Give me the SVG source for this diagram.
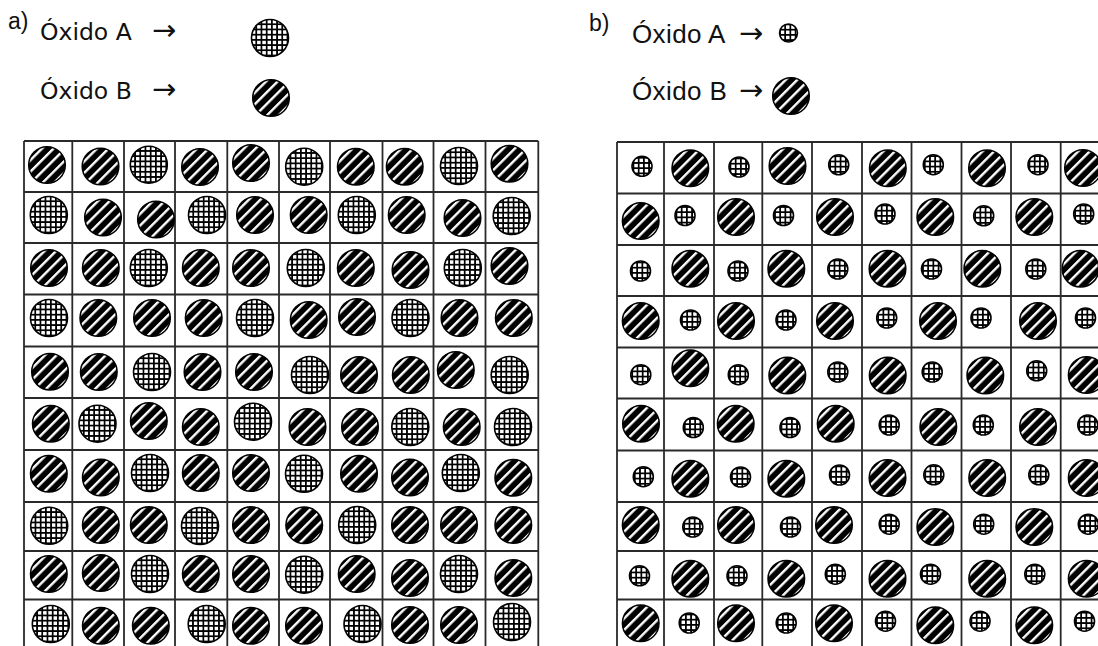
<svg xmlns="http://www.w3.org/2000/svg" xmlns:xlink="http://www.w3.org/1999/xlink" width="1098" height="646" viewBox="0 0 1098 646">
<style>
.lbl{font-family:"DejaVu Sans",sans-serif;font-size:23.5px;fill:#111}
.lblb{font-family:"Liberation Sans",Arial,sans-serif;font-size:26px;letter-spacing:0.4px;fill:#111}
.arr{font-family:"DejaVu Sans",sans-serif;font-size:29px}
.tag{font-family:"Liberation Sans",Arial,sans-serif;font-size:23px;fill:#111}
.grid{fill:none;stroke:#2a2a2a;stroke-width:1.8}
</style>
<defs>
<pattern id="stripe" patternUnits="userSpaceOnUse" width="8.2" height="8.2" patternTransform="rotate(-45)">
<rect width="8.2" height="8.2" fill="#000"/>
<rect y="0" width="8.2" height="2.4" fill="#fff"/>
</pattern>
<pattern id="hatch" patternUnits="userSpaceOnUse" width="5.2" height="5.2" x="1" y="1">
<rect width="5.2" height="5.2" fill="#fff"/>
<rect width="5.2" height="1.5" fill="#000" shape-rendering="crispEdges"/>
<rect width="1.5" height="5.2" fill="#000" shape-rendering="crispEdges"/>
</pattern>
<circle id="cB" r="18.3" fill="url(#stripe)" stroke="#000" stroke-width="1.5"/>
<circle id="cA" r="18.5" fill="url(#hatch)" stroke="#000" stroke-width="1.6"/>
<circle id="ca" r="10" fill="url(#hatch)" stroke="#000" stroke-width="1.6"/>
<circle id="ch" r="9" fill="url(#hatch)" stroke="#000" stroke-width="1.5"/>
</defs>

<g id="legend-a">
<text class="tag" x="8" y="29">a)</text>
<text class="lbl" x="40" y="40">Óxido A <tspan class="arr" x="152">→</tspan></text>
<text class="lbl" x="40" y="99">Óxido B <tspan class="arr" x="152">→</tspan></text>
<use href="#cA" x="270" y="38"/>
<use href="#cB" x="271" y="98"/>
</g>

<g id="legend-b">
<text class="tag" x="589" y="31">b)</text>
<text class="lblb" x="632" y="43">Óxido A <tspan class="arr" x="739">→</tspan></text>
<text class="lblb" x="632" y="100">Óxido B <tspan class="arr" x="739">→</tspan></text>
<use href="#ch" x="788.5" y="33"/>
<use href="#cB" x="791" y="96"/>
</g>

<g id="grid-a">
<path class="grid" d="M24 141V660M72.3 141V660M124 141V660M175 141V660M227.3 141V660M279 141V660M330 141V660M382.5 141V660M433.5 141V660M485.5 141V660M538.3 141V660
M24 141H538.3M24 192H538.3M24 243H538.3M24 294.5H538.3M24 346.5H538.3M24 398H538.3M24 450H538.3M24 502H538.3M24 551H538.3M24 599.5H538.3"/>
</g>

<g id="grid-b">
<path class="grid" d="M617 142V660M664 142V660M714 142V660M762.3 142V660M812 142V660M862 142V660M911.5 142V660M961.5 142V660M1011 142V660M1060.7 142V660
M617 142H1110M617 193.5H1110M617 245H1110M617 296H1110M617 347.5H1110M617 398.5H1110M617 450.5H1110M617 502H1110M617 551H1110M617 599.5H1110"/>
</g>

<g id="particles-a">
<use href="#cB" x="47" y="165"/><use href="#cB" x="100.5" y="166.5"/><use href="#cA" x="148.8" y="164.7"/><use href="#cB" x="200" y="167"/><use href="#cB" x="251" y="163"/><use href="#cA" x="304.2" y="166.7"/><use href="#cB" x="355.8" y="166.7"/><use href="#cB" x="404.7" y="166.7"/><use href="#cA" x="459" y="166"/><use href="#cB" x="509.5" y="163.7"/>
<use href="#cA" x="48.8" y="215"/><use href="#cB" x="103" y="217.5"/><use href="#cB" x="156" y="219.5"/><use href="#cA" x="207" y="215"/><use href="#cB" x="255" y="215"/><use href="#cB" x="308.7" y="215"/><use href="#cA" x="356.8" y="215"/><use href="#cB" x="406.7" y="215"/><use href="#cB" x="462.5" y="218"/><use href="#cA" x="511.7" y="216"/>
<use href="#cB" x="49" y="268"/><use href="#cB" x="100.8" y="268"/><use href="#cA" x="148.8" y="268"/><use href="#cB" x="200.8" y="268"/><use href="#cB" x="251" y="268"/><use href="#cA" x="305.8" y="268"/><use href="#cB" x="355.8" y="268"/><use href="#cB" x="410.5" y="270"/><use href="#cA" x="462.8" y="268"/><use href="#cB" x="509.5" y="266"/>
<use href="#cA" x="49" y="318"/><use href="#cB" x="98.3" y="318"/><use href="#cB" x="152" y="318"/><use href="#cB" x="203.7" y="318"/><use href="#cA" x="255" y="318"/><use href="#cB" x="308.7" y="320"/><use href="#cB" x="357" y="317"/><use href="#cA" x="410.5" y="318"/><use href="#cB" x="459.5" y="318"/><use href="#cB" x="513.8" y="318"/>
<use href="#cB" x="50" y="371.7"/><use href="#cB" x="98.8" y="372"/><use href="#cA" x="152" y="372"/><use href="#cB" x="202.5" y="372"/><use href="#cB" x="254" y="372"/><use href="#cA" x="310" y="375"/><use href="#cB" x="359" y="375"/><use href="#cB" x="410.8" y="375"/><use href="#cB" x="455.8" y="370"/><use href="#cA" x="509.7" y="375"/>
<use href="#cB" x="50.8" y="423.7"/><use href="#cA" x="97.5" y="423.7"/><use href="#cB" x="148.8" y="421"/><use href="#cB" x="200.8" y="427"/><use href="#cA" x="253" y="421.7"/><use href="#cB" x="307.5" y="427"/><use href="#cB" x="360" y="427"/><use href="#cA" x="410.3" y="427"/><use href="#cB" x="461.7" y="427"/><use href="#cA" x="513" y="427"/>
<use href="#cB" x="48.8" y="473.8"/><use href="#cB" x="100.8" y="477.5"/><use href="#cA" x="150" y="473"/><use href="#cB" x="200.8" y="473"/><use href="#cB" x="251" y="473"/><use href="#cA" x="304" y="473.8"/><use href="#cB" x="359" y="473.8"/><use href="#cB" x="410" y="477.5"/><use href="#cA" x="460.8" y="473"/><use href="#cB" x="513.3" y="477.8"/>
<use href="#cA" x="49.2" y="525.8"/><use href="#cB" x="100.8" y="525"/><use href="#cB" x="148.8" y="525"/><use href="#cA" x="200" y="526"/><use href="#cB" x="251" y="525"/><use href="#cB" x="304.2" y="525.3"/><use href="#cA" x="357.2" y="525"/><use href="#cB" x="410" y="525"/><use href="#cB" x="459" y="525"/><use href="#cB" x="513.3" y="525"/>
<use href="#cB" x="48.8" y="574"/><use href="#cB" x="100.8" y="573"/><use href="#cA" x="150" y="574"/><use href="#cB" x="200.8" y="574"/><use href="#cB" x="251" y="574"/><use href="#cA" x="304.2" y="574.7"/><use href="#cB" x="356.7" y="574"/><use href="#cB" x="410" y="578"/><use href="#cA" x="459" y="574"/><use href="#cB" x="513.3" y="578"/>
<use href="#cA" x="50.8" y="624"/><use href="#cB" x="100.8" y="625.8"/><use href="#cB" x="150.8" y="625.8"/><use href="#cA" x="206.7" y="624"/><use href="#cB" x="251" y="625.8"/><use href="#cB" x="304" y="625.8"/><use href="#cA" x="362.5" y="624"/><use href="#cB" x="410" y="625"/><use href="#cB" x="459" y="625"/><use href="#cA" x="512" y="622"/>
</g>

<g id="particles-b">
<use href="#ca" x="642" y="166.3"/><use href="#cB" x="690.3" y="168.3"/><use href="#ca" x="739" y="167"/><use href="#cB" x="787.5" y="166"/><use href="#ca" x="838.7" y="164.8"/><use href="#cB" x="887.8" y="168.3"/><use href="#ca" x="933.3" y="164.7"/><use href="#cB" x="987" y="168.3"/><use href="#ca" x="1038" y="164.7"/><use href="#cB" x="1083" y="168"/>
<use href="#cB" x="640.7" y="221"/><use href="#ca" x="685" y="215.5"/><use href="#cB" x="736" y="217"/><use href="#ca" x="783.5" y="215.5"/><use href="#cB" x="835" y="217"/><use href="#ca" x="885" y="214"/><use href="#cB" x="935.3" y="217"/><use href="#ca" x="983.7" y="215.8"/><use href="#cB" x="1034.3" y="217"/><use href="#ca" x="1083.7" y="214"/>
<use href="#ca" x="640.5" y="271"/><use href="#cB" x="690.3" y="268.7"/><use href="#ca" x="738" y="271"/><use href="#cB" x="786.3" y="268.7"/><use href="#ca" x="837.8" y="269"/><use href="#cB" x="887.5" y="268.7"/><use href="#ca" x="931.5" y="269"/><use href="#cB" x="982.3" y="268.7"/><use href="#ca" x="1035.8" y="269"/><use href="#cB" x="1080.5" y="268.7"/>
<use href="#cB" x="640.7" y="321"/><use href="#ca" x="690.5" y="320"/><use href="#cB" x="736" y="321"/><use href="#ca" x="786" y="320"/><use href="#cB" x="835" y="321"/><use href="#ca" x="886.7" y="318"/><use href="#cB" x="938" y="321"/><use href="#ca" x="981" y="318"/><use href="#cB" x="1038" y="321"/><use href="#ca" x="1085.5" y="318"/>
<use href="#ca" x="640.8" y="374.7"/><use href="#cB" x="690.3" y="368.3"/><use href="#ca" x="738.3" y="374.7"/><use href="#cB" x="787.3" y="375.5"/><use href="#ca" x="837.8" y="372"/><use href="#cB" x="887.7" y="375.5"/><use href="#ca" x="932.2" y="372"/><use href="#cB" x="985.3" y="375.5"/><use href="#ca" x="1036.7" y="370.8"/><use href="#cB" x="1086.7" y="375"/>
<use href="#cB" x="641" y="423.7"/><use href="#ca" x="693.3" y="427.5"/><use href="#cB" x="735.7" y="423.7"/><use href="#ca" x="790" y="427.5"/><use href="#cB" x="835.7" y="423.7"/><use href="#ca" x="889.2" y="425"/><use href="#cB" x="938.3" y="427"/><use href="#ca" x="983.3" y="425"/><use href="#cB" x="1038" y="427"/><use href="#ca" x="1087.8" y="425"/>
<use href="#ca" x="643.3" y="476.7"/><use href="#cB" x="690.3" y="478.7"/><use href="#ca" x="740.5" y="477"/><use href="#cB" x="786.3" y="478.7"/><use href="#ca" x="839.5" y="475"/><use href="#cB" x="887.5" y="478"/><use href="#ca" x="933.8" y="474.8"/><use href="#cB" x="987.2" y="478"/><use href="#ca" x="1038.8" y="474.8"/><use href="#cB" x="1086.7" y="478"/>
<use href="#cB" x="640.7" y="525"/><use href="#ca" x="692.8" y="527"/><use href="#cB" x="736" y="525"/><use href="#ca" x="790.5" y="527"/><use href="#cB" x="834" y="525"/><use href="#ca" x="889.2" y="524.2"/><use href="#cB" x="935.3" y="527"/><use href="#ca" x="983.7" y="524.2"/><use href="#cB" x="1034.3" y="527"/><use href="#ca" x="1088.3" y="524.2"/>
<use href="#ca" x="639.5" y="575.8"/><use href="#cB" x="690.3" y="578.7"/><use href="#ca" x="737" y="575.8"/><use href="#cB" x="786.3" y="578.7"/><use href="#ca" x="835.3" y="574.2"/><use href="#cB" x="887.5" y="578.7"/><use href="#ca" x="930.5" y="574.2"/><use href="#cB" x="987.2" y="578.7"/><use href="#ca" x="1034.8" y="574.2"/><use href="#cB" x="1086.7" y="578.7"/>
<use href="#cB" x="640.7" y="623.3"/><use href="#ca" x="689.2" y="623"/><use href="#cB" x="736" y="623.3"/><use href="#ca" x="786.2" y="623"/><use href="#cB" x="834" y="623.3"/><use href="#ca" x="885.5" y="621.2"/><use href="#cB" x="935.3" y="625.3"/><use href="#ca" x="980" y="621.2"/><use href="#cB" x="1034.3" y="625.3"/><use href="#ca" x="1084.5" y="621.2"/>
</g>
</svg>
